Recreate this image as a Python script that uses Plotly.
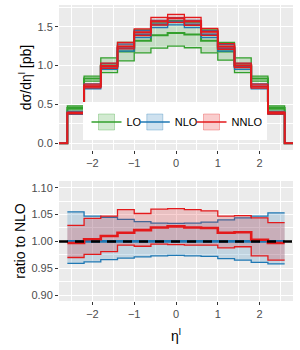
import plotly.graph_objects as go
from plotly.subplots import make_subplots

# ---- data ----
eta_edges = [-2.6, -2.2, -1.8, -1.4, -1.0, -0.6, -0.2, 0.2, 0.6, 1.0, 1.4, 1.8, 2.2, 2.6]
eta_outer = [-3.0, 3.0]  # empty bins outside the measured range (value 0)

lo_c = [0.455, 0.835, 1.00, 1.18, 1.32, 1.39, 1.42, 1.40, 1.32, 1.18, 1.00, 0.835, 0.455]
lo_up = [0.48, 0.865, 1.10, 1.30, 1.46, 1.55, 1.58, 1.56, 1.46, 1.30, 1.10, 0.865, 0.48]
lo_dn = [0.43, 0.80, 0.91, 1.06, 1.165, 1.225, 1.252, 1.23, 1.165, 1.07, 0.91, 0.80, 0.43]

nlo_c = [0.39, 0.73, 0.985, 1.225, 1.40, 1.53, 1.565, 1.53, 1.40, 1.225, 0.985, 0.73, 0.39]

# ratios to NLO
r_nlo_up = [1.055, 1.047, 1.045, 1.041, 1.037, 1.034, 1.0335, 1.034, 1.036, 1.040, 1.044, 1.047, 1.053]
r_nlo_dn = [0.959, 0.962, 0.966, 0.969, 0.971, 0.973, 0.974, 0.973, 0.972, 0.968, 0.965, 0.961, 0.958]
r_nnlo_c = [0.997, 1.004, 1.010, 1.016, 1.021, 1.026, 1.028, 1.026, 1.025, 1.016, 1.017, 1.003, 0.997]
r_nnlo_up = [1.030, 1.043, 1.047, 1.059, 1.052, 1.060, 1.061, 1.059, 1.057, 1.047, 1.048, 1.044, 1.035]
r_nnlo_dn = [0.970, 0.976, 0.981, 0.993, 0.991, 0.995, 0.994, 0.993, 0.993, 0.988, 0.990, 0.973, 0.965]

series_names = ["LO", "NLO", "NNLO"]
x_ticks = [-2, -1, 0, 1, 2]
y_ticks_top = [0.0, 0.5, 1.0, 1.5]
y_ticks_bot = [0.90, 0.95, 1.00, 1.05, 1.10]

# absolute NLO / NNLO from NLO central and the ratios
nlo_up = [c * r for c, r in zip(nlo_c, r_nlo_up)]
nlo_dn = [c * r for c, r in zip(nlo_c, r_nlo_dn)]
nnlo_c = [c * r for c, r in zip(nlo_c, r_nnlo_c)]
nnlo_up = [c * r for c, r in zip(nlo_c, r_nnlo_up)]
nnlo_dn = [c * r for c, r in zip(nlo_c, r_nnlo_dn)]

GREEN = "#33A02C"
BLUE = "#1F78B4"
RED = "#E31A1C"

# figure geometry (pixels)
W, H = 300, 350
ML, MR, MT, MB = 59, 7, 5, 49
PW, PH = W - ML - MR, H - MT - MB


def px_x(x):
    return (x - ML) / PW


def px_y(y):
    return (H - MB - y) / PH


def rgba(h, a):
    h = h.lstrip("#")
    return "rgba(%d,%d,%d,%s)" % (int(h[0:2], 16), int(h[2:4], 16), int(h[4:6], 16), a)


def step_padded(vals):
    xs = [eta_outer[0]] + eta_edges + [eta_outer[1]]
    ys = [0.0] + list(vals) + [0.0, 0.0]
    return xs, ys


def step_plain(vals):
    xs = list(eta_edges)
    ys = list(vals) + [vals[-1]]
    return xs, ys


fig = make_subplots(rows=2, cols=1, vertical_spacing=0.0)

# ---- top panel ----
legend_ids = ["legend", "legend2", "legend3"]
for i, (name, col, c, up, dn) in enumerate([(series_names[0], GREEN, lo_c, lo_up, lo_dn),
                                            (series_names[1], BLUE, nlo_c, nlo_up, nlo_dn),
                                            (series_names[2], RED, nnlo_c, nnlo_up, nnlo_dn)]):
    xu, yu = step_padded(up)
    xd, yd = step_padded(dn)
    xc, yc = step_padded(c)
    fig.add_trace(go.Scatter(x=xu, y=yu, mode="lines", line=dict(color=col, width=1.3, shape="hv"),
                             showlegend=False, hoverinfo="skip"), row=1, col=1)
    fig.add_trace(go.Scatter(x=xd, y=yd, mode="lines", line=dict(color=col, width=1.3, shape="hv"),
                             fill="tonexty", fillcolor=rgba(col, 0.2),
                             showlegend=False, hoverinfo="skip"), row=1, col=1)
    fig.add_trace(go.Scatter(x=xc, y=yc, mode="lines", line=dict(color=col, width=2, shape="hv"),
                             showlegend=False, hoverinfo="skip"), row=1, col=1)
    # legend key
    fig.add_trace(go.Scatter(x=[None], y=[None], mode="lines+markers", name=name,
                             line=dict(color=col, width=1.4),
                             marker=dict(symbol="square", size=19, color=rgba(col, 0.22),
                                         line=dict(color=rgba(col, 0.3), width=1)),
                             legend=legend_ids[i], showlegend=True), row=1, col=1)

# ---- ratio panel ----
for col, up, dn in [(BLUE, r_nlo_up, r_nlo_dn), (RED, r_nnlo_up, r_nnlo_dn)]:
    xu, yu = step_plain(up)
    xd, yd = step_plain(dn)
    fig.add_trace(go.Scatter(x=xu, y=yu, mode="lines", line=dict(color=col, width=1.3, shape="hv"),
                             showlegend=False, hoverinfo="skip"), row=2, col=1)
    fig.add_trace(go.Scatter(x=xd, y=yd, mode="lines", line=dict(color=col, width=1.3, shape="hv"),
                             fill="tonexty", fillcolor=rgba(col, 0.2),
                             showlegend=False, hoverinfo="skip"), row=2, col=1)

xo, yo = step_plain([1.0] * len(nlo_c))
fig.add_trace(go.Scatter(x=xo, y=yo, mode="lines", line=dict(color=BLUE, width=2.6, shape="hv"),
                         showlegend=False, hoverinfo="skip"), row=2, col=1)
xr, yr = step_plain(r_nnlo_c)
fig.add_trace(go.Scatter(x=xr, y=yr, mode="lines", line=dict(color=RED, width=2.6, shape="hv"),
                         showlegend=False, hoverinfo="skip"), row=2, col=1)
fig.add_hline(y=1.0, line=dict(color="black", width=2.5, dash="9px,7px"), row=2, col=1)

# ---- axes ----
tickfont = dict(family="Liberation Sans, Arial, sans-serif", size=11, color="#4D4D4D")
common = dict(showgrid=True, gridcolor="white", gridwidth=1.1, zeroline=False,
              ticks="outside", ticklen=3, tickwidth=1, tickcolor="#333333",
              tickfont=tickfont, showline=False, automargin=False)
minor = dict(showgrid=True, gridcolor="white", gridwidth=0.5)

fig.update_xaxes(range=[-2.8, 2.8], tickvals=x_ticks, ticktext=["\u22122", "\u22121", "0", "1", "2"],
                 minor=dict(tickvals=[-2.5, -1.5, -0.5, 0.5, 1.5, 2.5], **minor), **common)
fig.update_xaxes(title=dict(text="\u03b7<sup>l</sup>", font=dict(size=14, color="black"), standoff=11),
                 row=2, col=1)
fig.update_yaxes(range=[-0.086, 1.78], tickvals=y_ticks_top, ticktext=["0.0", "0.5", "1.0", "1.5"],
                 minor=dict(tickvals=[0.25, 0.75, 1.25, 1.75], **minor),
                 title=dict(text="d\u03c3/d\u03b7<sup>l</sup> [pb]", font=dict(size=14, color="black"),
                            standoff=2),
                 row=1, col=1, **common)
fig.update_yaxes(range=[0.889, 1.1125], tickvals=y_ticks_bot,
                 ticktext=["0.90", "0.95", "1.00", "1.05", "1.10"],
                 minor=dict(tickvals=[0.925, 0.975, 1.025, 1.075], **minor),
                 title=dict(text="ratio to NLO", font=dict(size=14, color="black"), standoff=2),
                 row=2, col=1, **common)

# legend background box (white, like ggplot's inside legend)
fig.add_shape(type="rect", xref="paper", yref="paper",
              x0=px_x(83), x1=px_x(267), y0=px_y(140), y1=px_y(102),
              fillcolor="white", line=dict(width=0), layer="above")

key_centers = [108, 156.3, 213]
legend_common = dict(orientation="h", xanchor="left", yanchor="middle", y=px_y(122),
                     bgcolor="rgba(0,0,0,0)", font=dict(size=11, color="black"),
                     itemwidth=30, borderwidth=0)
fig.update_layout(
    width=W, height=H,
    margin=dict(l=ML, r=MR, t=MT, b=MB, autoexpand=False),
    paper_bgcolor="white", plot_bgcolor="#EBEBEB",
    font=dict(family="Liberation Sans, Arial, sans-serif", size=12, color="black"),
    legend=dict(x=px_x(key_centers[0] - 21.5), **legend_common),
    legend2=dict(x=px_x(key_centers[1] - 21.5), **legend_common),
    legend3=dict(x=px_x(key_centers[2] - 21.5), **legend_common),
)
fig.layout.yaxis.domain = [px_y(150), 1.0]
fig.layout.yaxis2.domain = [0.0, px_y(181)]

fig.write_html("out.html", config={"displayModeBar": False},
               post_script="document.body.style.margin='0px';")
